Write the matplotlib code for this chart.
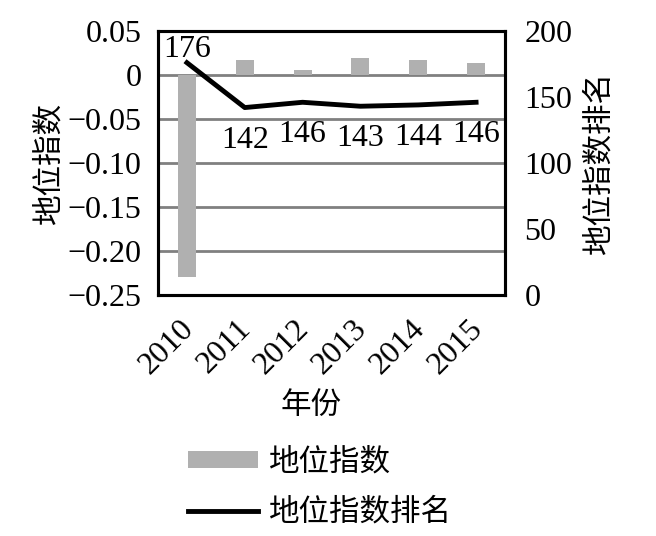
import matplotlib
matplotlib.use("Agg")
import matplotlib.pyplot as plt
from matplotlib.patches import Patch
from matplotlib.lines import Line2D
from matplotlib.transforms import ScaledTranslation

years = ["2010", "2011", "2012", "2013", "2014", "2015"]
index_vals = [-0.23, 0.017, 0.006, 0.019, 0.017, 0.014]
rank_vals = [176, 142, 146, 143, 144, 146]
left_ticks = [0.05, 0, -0.05, -0.10, -0.15, -0.20, -0.25]
left_labels = ["0.05", "0", "\u22120.05", "\u22120.10", "\u22120.15", "\u22120.20", "\u22120.25"]
right_ticks = [0, 50, 100, 150, 200]

SERIF = ["Liberation Serif", "DejaVu Serif"]
CJK = ["Noto Sans CJK SC", "DejaVu Sans"]
FS = 23
FC = 22

fig = plt.figure(figsize=(6.56, 5.36), dpi=100)
ax = fig.add_axes([158/656, 1-295/536, (505-158)/656, (295-31)/536])
x = list(range(len(years)))
ax.bar(x, index_vals, width=0.31, color="#b0b0b0", zorder=2)
ax.set_xlim(-0.5, 5.5)
ax.set_ylim(-0.25, 0.05)
ax.set_yticks(left_ticks)
ax.set_yticklabels(left_labels, fontfamily=SERIF, fontsize=FS)
for t in [0, -0.05, -0.10, -0.15, -0.20]:
    ax.axhline(t, color="#808080", lw=2, zorder=1)
ax.set_xticks(x)
ax.set_xticklabels(years, rotation=45, ha="right", rotation_mode="anchor",
                   fontfamily=SERIF, fontsize=FS)
ax.tick_params(axis="y", length=0, pad=12)
ax.tick_params(axis="x", length=0, pad=10)
shift = ScaledTranslation(-8/100, -5/100, fig.dpi_scale_trans)
for lab in ax.get_xticklabels():
    lab.set_transform(lab.get_transform() + shift)
for s in ax.spines.values():
    s.set_linewidth(2.2)
ax.set_ylabel("地位指数", fontfamily=CJK, fontsize=FC, labelpad=2)
ax.set_xlabel("年份", fontfamily=CJK, fontsize=FC)
ax.xaxis.set_label_coords((311-158)/347, (295-390)/264)

ax2 = ax.twinx()
ax2.plot(x, rank_vals, color="black", lw=3.5, zorder=3)
ax2.set_ylim(0, 200)
ax2.set_yticks(right_ticks)
ax2.set_yticklabels([str(v) for v in right_ticks], fontfamily=SERIF, fontsize=FS)
ax2.tick_params(length=0, pad=14)
ax2.set_ylabel("地位指数排名", fontfamily=CJK, fontsize=FC, labelpad=8)
for s in ax2.spines.values():
    s.set_linewidth(2.2)

for i, v in enumerate(rank_vals):
    if i == 0:
        ax2.annotate(str(v), (i, v), xytext=(0, -1), textcoords="offset points",
                     ha="center", va="bottom", fontfamily=SERIF, fontsize=FS)
    else:
        ax2.annotate(str(v), (i, v), xytext=(0, -13), textcoords="offset points",
                     ha="center", va="top", fontfamily=SERIF, fontsize=FS)

handles = [Patch(facecolor="#b0b0b0", edgecolor="none"),
           Line2D([0], [0], color="black", lw=3.5)]
fig.legend(handles, ["地位指数", "地位指数排名"], loc="center left",
           bbox_to_anchor=(188/656, 1-487/536), frameon=False,
           borderpad=0, borderaxespad=0,
           prop={"family": CJK, "size": FC}, handlelength=2.3,
           handleheight=0.5, labelspacing=0.65, handletextpad=0.35)

fig.savefig("out.png", dpi=100)
